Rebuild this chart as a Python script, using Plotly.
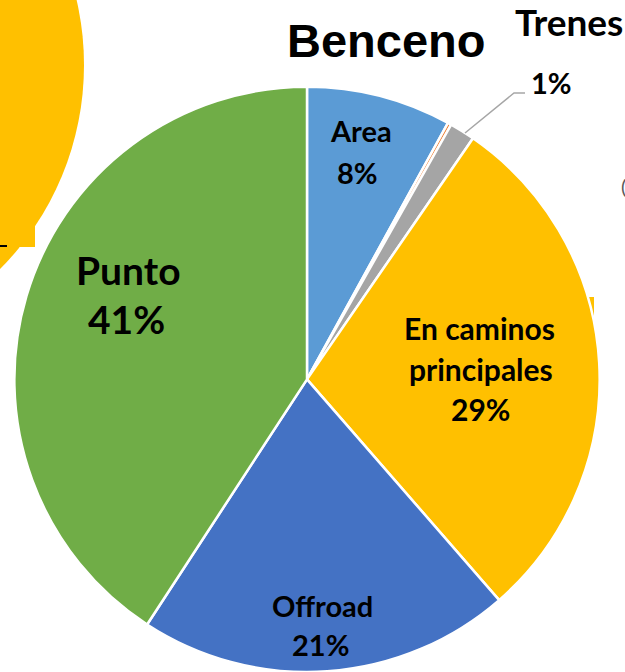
import plotly.graph_objects as go

# ---- data ----
labels = ["Area", "Otros", "Trenes", "En caminos principales", "Offroad", "Punto"]
values = [8.0, 0.2, 1.4, 29.0, 20.6, 40.8]
colors = ["#5B9BD5", "#ED7D31", "#A5A5A5", "#FFC000", "#4472C4", "#70AD47"]
label_lines = {
    "Area": ["Area"],
    "Trenes": ["Trenes"],
    "En caminos principales": ["En caminos", "principales"],
    "Offroad": ["Offroad"],
    "Punto": ["Punto"],
}
title_text = "Benceno"

W, H = 625, 672
total = sum(values)
pct = {l: f"{round(v / total * 100)}%" for l, v in zip(labels, values)}


def px(x):
    return x / W


def py(y):
    return 1 - y / H


fig = go.Figure()
fig.add_trace(go.Pie(
    labels=labels,
    values=values,
    sort=False,
    direction="clockwise",
    rotation=0,
    textinfo="none",
    hoverinfo="label+percent",
    marker=dict(colors=colors, line=dict(color="white", width=2.5)),
    domain=dict(x=[14 / W, 600 / W], y=[0, 0.871]),
    showlegend=False,
))


def lato(size, color="black", bold=True):
    return dict(family="Lato", size=size, color=color, weight="bold" if bold else "normal")


annotations = []


def add(text, x, y, font, xanchor="center"):
    annotations.append(dict(
        x=px(x), y=py(y), text=text, font=font, xanchor=xanchor, yanchor="middle",
        xref="paper", yref="paper", showarrow=False,
    ))


# inside labels (one annotation per line)
add(label_lines["Area"][0], 361, 131, lato(29))
add(pct["Area"], 357, 172, lato(29))
add(label_lines["Punto"][0], 128, 270, lato(39))
add(pct["Punto"], 126, 319, lato(39))
add(label_lines["En caminos principales"][0], 479, 328, lato(30))
add(label_lines["En caminos principales"][1], 481, 368.5, lato(30))
add(pct["En caminos principales"], 481, 409, lato(30))
add(label_lines["Offroad"][0], 322, 605.5, lato(29))
add(pct["Offroad"], 321, 644, lato(29))
# outside label for Trenes
add(label_lines["Trenes"][0], 513, 21, lato(37), xanchor="left")
add(pct["Trenes"], 529, 82, lato(29), xanchor="left")
# title
add(title_text, 386, 40, dict(family="Liberation Sans", size=47, color="black", weight="bold"))
# fragment of neighbouring chart text
add("(", 619, 186, lato(20, "#595959", bold=False), xanchor="left")

shapes = [
    # neighbouring chart fragment (yellow circle)
    dict(type="circle", xref="paper", yref="paper", layer="below",
         x0=px(-496), x1=px(84), y0=py(355), y1=py(-225),
         fillcolor="#FFC000", line=dict(width=0)),
    dict(type="rect", xref="paper", yref="paper", layer="below",
         x0=px(0), x1=px(35), y0=py(247), y1=py(200),
         fillcolor="#FFC000", line=dict(width=0)),
    dict(type="line", xref="paper", yref="paper",
         x0=px(0), x1=px(7), y0=py(246), y1=py(246),
         line=dict(color="black", width=2)),
    dict(type="rect", xref="paper", yref="paper", layer="below",
         x0=px(560), x1=px(594), y0=py(340), y1=py(297),
         fillcolor="#FFC000", line=dict(width=0)),
    # leader line for Trenes
    dict(type="path", xref="paper", yref="paper",
         path=f"M {px(465)},{py(133)} L {px(514)},{py(93)} L {px(525)},{py(93)}",
         line=dict(color="#A6A6A6", width=1.5)),
]

fig.update_layout(
    width=W, height=H,
    margin=dict(l=0, r=0, t=0, b=0),
    paper_bgcolor="white",
    plot_bgcolor="white",
    annotations=annotations,
    shapes=shapes,
)

fig.write_html("out.html", config={"displayModeBar": False},
               post_script="document.body.style.margin='0';")
